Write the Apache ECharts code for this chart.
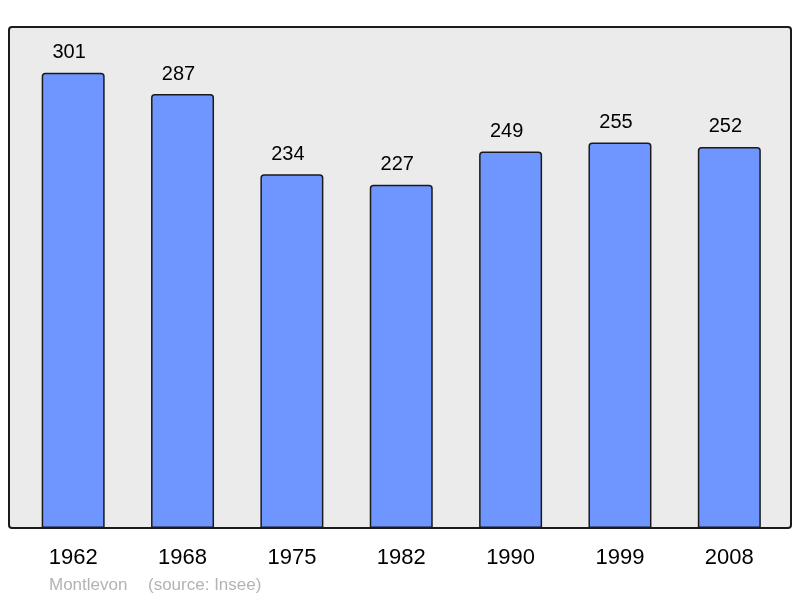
<!DOCTYPE html>
<html>
<head>
<meta charset="utf-8">
<script src="https://cdn.jsdelivr.net/npm/echarts@6/dist/echarts.min.js"></script>
<style>
  html, body { margin: 0; padding: 0; background: #fff; }
  #main { width: 800px; height: 598px; }
</style>
</head>
<body>
<div id="main"></div>
<script>
// population data
var years = ['1962', '1968', '1975', '1982', '1990', '1999', '2008'];
var population = [301, 287, 234, 227, 249, 255, 252];
var town = 'Montlevon';
var source = '(source: Insee)';

var chart = echarts.init(document.getElementById('main'));
chart.setOption({
  animation: false,
  backgroundColor: '#ffffff',
  graphic: [
    {
      type: 'rect',
      z: 0,
      shape: { x: 9, y: 27, width: 782, height: 501, r: 3 },
      style: { fill: '#ebebeb', stroke: '#1a1a1a', lineWidth: 2 }
    },
    {
      type: 'text',
      left: 49,
      top: 577,
      style: { text: town, fill: '#b3b3b3', font: '17px "Liberation Sans", Arial, sans-serif' }
    },
    {
      type: 'text',
      left: 148,
      top: 577,
      style: { text: source, fill: '#b3b3b3', font: '17px "Liberation Sans", Arial, sans-serif' }
    }
  ],
  grid: {
    left: 18.5,
    top: 27,
    width: 765.5,
    height: 501
  },
  xAxis: {
    type: 'category',
    data: years,
    axisLine: { show: false },
    axisTick: { show: false },
    axisLabel: {
      margin: 19,
      color: '#000',
      fontSize: 22,
      fontFamily: '"Liberation Sans", Arial, sans-serif'
    }
  },
  yAxis: {
    type: 'value',
    min: 0,
    max: 331.3,
    show: false,
    splitLine: { show: false }
  },
  series: [{
    type: 'bar',
    data: population,
    barWidth: 63,
    z: 2,
    itemStyle: {
      color: '#6f96ff',
      borderColor: '#1a1a1a',
      borderWidth: 1.5,
      borderRadius: [3, 3, 0, 0]
    },
    label: {
      show: true,
      position: 'top',
      distance: 10,
      offset: [-4, 0],
      color: '#000',
      fontSize: 20,
      fontFamily: '"Liberation Sans", Arial, sans-serif'
    }
  }]
});
</script>
</body>
</html>
